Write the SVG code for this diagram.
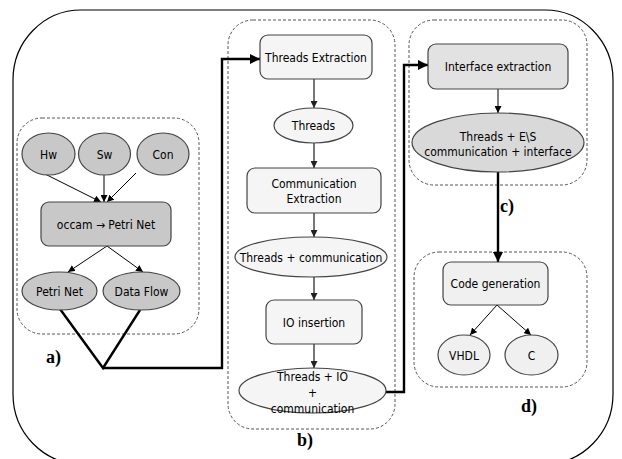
<svg xmlns="http://www.w3.org/2000/svg" width="622" height="459" viewBox="0 0 622 459">
  <defs>
    <marker id="ah" viewBox="0 0 10 10" refX="10" refY="5" markerWidth="7" markerHeight="7" markerUnits="userSpaceOnUse" orient="auto">
      <path d="M0,0 L10,5 L0,10 Z" fill="#000"/>
    </marker>
    <marker id="ahg" viewBox="0 0 10 10" refX="10" refY="5" markerWidth="7" markerHeight="7" markerUnits="userSpaceOnUse" orient="auto">
      <path d="M0,0 L10,5 L0,10 Z" fill="#222"/>
    </marker>
    <marker id="ahb" viewBox="0 0 10 10" refX="10" refY="5" markerWidth="10" markerHeight="10" markerUnits="userSpaceOnUse" orient="auto">
      <path d="M0,0 L10,5 L0,10 Z" fill="#000"/>
    </marker>
  </defs>
  <style>
    .frame { fill: #fff; stroke: #000; stroke-width: 1.2; }
    .grp { fill: none; stroke: #555; stroke-width: 1; stroke-dasharray: 3 2; }
    .node { stroke: #444; stroke-width: 1.2; }
    .dark { fill: #c8c8c8; }
    .mid { fill: #e2e2e2; }
    .lite { fill: #f5f5f5; }
    .t { font-family: "DejaVu Sans Condensed", "DejaVu Sans", sans-serif; font-stretch: condensed; font-size: 12px; fill: #000; text-anchor: middle; }
    .lbl { font-family: "Liberation Serif", serif; font-weight: bold; font-size: 18px; fill: #000; }
    .thin { fill: none; stroke: #000; stroke-width: 1; }
    .gray { fill: none; stroke: #555; stroke-width: 1.6; }
    .thick { fill: none; stroke: #000; stroke-width: 2.4; }
  </style>

  <!-- outer frame -->
  <rect class="frame" x="13" y="10" width="600" height="454" rx="68" ry="70"/>

  <!-- group outlines -->
  <rect id="group-a" class="grp" x="17" y="118" width="182" height="216" rx="25"/>
  <rect id="group-b" class="grp" x="228" y="20" width="167" height="409" rx="25"/>
  <rect id="group-c" class="grp" x="409" y="20" width="178" height="165" rx="25"/>
  <rect id="group-d" class="grp" x="414" y="252" width="173" height="135" rx="25"/>

  <!-- connectors -->
  <g id="connectors">
    <line class="thin" x1="45" y1="174" x2="101" y2="202" marker-end="url(#ah)"/>
    <line class="thin" x1="104" y1="175" x2="104" y2="202" marker-end="url(#ah)"/>
    <line class="thin" x1="136" y1="173" x2="107" y2="202" marker-end="url(#ah)"/>
    <line class="thin" x1="107" y1="246" x2="68" y2="272" marker-end="url(#ah)"/>
    <line class="thin" x1="107" y1="246" x2="143" y2="272" marker-end="url(#ah)"/>

    <polyline class="thick" points="60,309 103,368 140,310"/>
    <polyline class="thick" points="103,368 222,368 222,59 260,59" marker-end="url(#ahb)"/>

    <line class="gray" x1="314" y1="79" x2="314" y2="108" marker-end="url(#ahg)"/>
    <line class="gray" x1="314" y1="143" x2="314" y2="168" marker-end="url(#ahg)"/>
    <line class="gray" x1="314" y1="213" x2="314" y2="237" marker-end="url(#ahg)"/>
    <line class="gray" x1="314" y1="277" x2="314" y2="300" marker-end="url(#ahg)"/>
    <line class="gray" x1="314" y1="344" x2="314" y2="368" marker-end="url(#ahg)"/>

    <polyline class="thick" points="386,392 404,392 404,65 428,65" marker-end="url(#ahb)"/>

    <line class="thin" x1="498" y1="89" x2="498" y2="113" marker-end="url(#ah)"/>
    <line class="thick" x1="498" y1="172" x2="498" y2="262" marker-end="url(#ahb)"/>

    <line class="thin" x1="497" y1="305" x2="470" y2="335" marker-end="url(#ah)"/>
    <line class="thin" x1="497" y1="305" x2="531" y2="335" marker-end="url(#ah)"/>
  </g>

  <!-- a) occam front end -->
  <g id="hw"><ellipse class="node dark" cx="48.5" cy="154" rx="26.5" ry="21"/><text class="t" x="48.5" y="158.5">Hw</text></g>
  <g id="sw"><ellipse class="node dark" cx="104.5" cy="154" rx="26" ry="21"/><text class="t" x="104.5" y="158.5">Sw</text></g>
  <g id="con"><ellipse class="node dark" cx="163" cy="154" rx="26" ry="21"/><text class="t" x="163" y="158.5">Con</text></g>
  <g id="occam"><rect class="node dark" x="41" y="202" width="130" height="44" rx="8"/><text class="t" x="106" y="228.5">occam → Petri Net</text></g>
  <g id="petri-net"><ellipse class="node dark" cx="59.5" cy="291" rx="37.5" ry="19"/><text class="t" x="59.5" y="295.5">Petri Net</text></g>
  <g id="data-flow"><ellipse class="node dark" cx="141.5" cy="291" rx="38.5" ry="19"/><text class="t" x="141.5" y="295.5">Data Flow</text></g>
  <text class="lbl" x="46" y="363">a)</text>

  <!-- b) thread extraction chain -->
  <g id="threads-extraction"><rect class="node lite" x="260" y="35" width="112" height="44" rx="8"/><text class="t" x="316" y="61.5">Threads Extraction</text></g>
  <g id="threads"><ellipse class="node lite" cx="313.5" cy="125.5" rx="39.5" ry="17.5"/><text class="t" x="313.5" y="130">Threads</text></g>
  <g id="communication-extraction"><rect class="node lite" x="247" y="168" width="134" height="45" rx="8"/><text class="t" x="314" y="187.5">Communication</text><text class="t" x="314" y="202.5">Extraction</text></g>
  <g id="threads-communication"><ellipse class="node lite" cx="311" cy="257" rx="76" ry="20"/><text class="t" x="311" y="261.5">Threads + communication</text></g>
  <g id="io-insertion"><rect class="node lite" x="266" y="300" width="96" height="44" rx="8"/><text class="t" x="314" y="326.5">IO insertion</text></g>
  <g id="threads-io-communication"><ellipse class="node lite" cx="312.5" cy="390.5" rx="73.5" ry="22.5"/><text class="t" x="312.5" y="381">Threads + IO</text><text class="t" x="312.5" y="397">+</text><text class="t" x="312.5" y="412.5">communication</text></g>
  <text class="lbl" x="297" y="446">b)</text>

  <!-- c) interface extraction -->
  <g id="interface-extraction"><rect class="node mid" x="428" y="44" width="140" height="45" rx="8"/><text class="t" x="498" y="71">Interface extraction</text></g>
  <g id="threads-es"><ellipse class="node" fill="#d9d9d9" cx="498" cy="142.5" rx="86" ry="29.5"/><text class="t" x="498" y="141">Threads + E\S</text><text class="t" x="498" y="156">communication + interface</text></g>
  <text class="lbl" x="500" y="212">c)</text>

  <!-- d) code generation -->
  <g id="code-generation"><rect class="node" fill="#f0f0f0" x="443" y="262" width="105" height="43" rx="8"/><text class="t" x="495.5" y="288">Code generation</text></g>
  <g id="vhdl"><ellipse class="node" fill="#f0f0f0" cx="464" cy="355" rx="26" ry="20"/><text class="t" x="464" y="359.5">VHDL</text></g>
  <g id="c"><ellipse class="node" fill="#f0f0f0" cx="531.5" cy="355" rx="26.5" ry="20"/><text class="t" x="531.5" y="359.5">C</text></g>
  <text class="lbl" x="521" y="412">d)</text>
</svg>
